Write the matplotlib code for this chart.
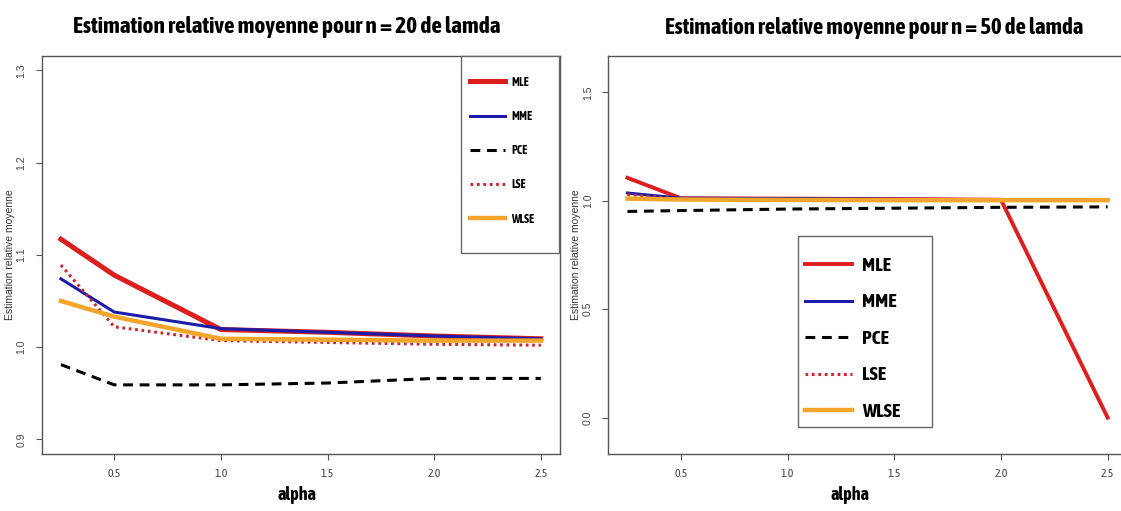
import matplotlib
matplotlib.use("Agg")
import matplotlib.pyplot as plt
from matplotlib import font_manager
from matplotlib.patches import Rectangle

alpha = [0.25, 0.5, 1.0, 1.5, 2.0, 2.5]
labels = ["MLE", "MME", "PCE", "LSE", "WLSE"]

# n = 20
mle_20 = [1.117, 1.078, 1.019, 1.016, 1.012, 1.009]
mme_20 = [1.074, 1.038, 1.020, 1.016, 1.012, 1.009]
pce_20 = [0.981, 0.959, 0.959, 0.961, 0.966, 0.966]
lse_20 = [1.089, 1.022, 1.007, 1.005, 1.003, 1.002]
wlse_20 = [1.050, 1.033, 1.009, 1.008, 1.007, 1.007]

# n = 50
mle_50 = [1.106, 1.012, 1.010, 1.008, 1.005, 0.0]
mme_50 = [1.036, 1.012, 1.010, 1.008, 1.005, 1.005]
pce_50 = [0.951, 0.955, 0.962, 0.966, 0.970, 0.972]
lse_50 = [1.029, 1.008, 1.006, 1.005, 1.004, 1.004]
wlse_50 = [1.010, 1.006, 1.004, 1.003, 1.003, 1.003]


def is_bold(w):
    if isinstance(w, str):
        return "bold" in w.lower() or w.lower() in ("heavy", "black")
    return w >= 600


# narrow family, preferably one that has a bold face
entries = font_manager.fontManager.ttflist
narrow_all = sorted({f.name for f in entries if "Narrow" in f.name or "Condensed" in f.name})
narrow_bold = sorted({f.name for f in entries
                      if f.name in narrow_all and is_bold(f.weight)})
names = {f.name for f in entries}
if narrow_bold:
    narrow = narrow_bold[0]
elif narrow_all:
    narrow = narrow_all[0]
else:
    narrow = "Liberation Sans" if "Liberation Sans" in names else "DejaVu Sans"
plain = "Liberation Sans" if "Liberation Sans" in names else "DejaVu Sans"

RED = "#dc1e1e"
BLUE = "#1c1ca8"
ORANGE = "#f2a52a"
LRED = "#c8282e"
AX = "#555555"


def style_axes(ax, xlim, ylim, yticks, xlab_x):
    ax.set_xlim(*xlim)
    ax.set_ylim(*ylim)
    ax.set_xticks([0.5, 1.0, 1.5, 2.0, 2.5])
    ax.set_xticklabels(["0.5", "1.0", "1.5", "2.0", "2.5"], family=narrow,
                       fontsize=8.5, color="#444444")
    ax.set_yticks(yticks)
    ax.set_yticklabels([f"{v:.1f}" for v in yticks], family=plain,
                       fontsize=7.5, color="#444444", rotation=90, va="center")
    ax.tick_params(direction="out", length=4, width=0.8, color=AX)
    ax.tick_params(axis="y", pad=7)
    ax.tick_params(axis="x", pad=6)
    for s in ax.spines.values():
        s.set_color(AX)
        s.set_linewidth(1.0)
    ax.set_xlabel("alpha", family=narrow, fontweight="bold", fontsize=13)
    ax.xaxis.set_label_coords(xlab_x, -0.08)
    ax.set_ylabel("Estimation relative moyenne", family=plain, fontsize=7.5,
                  color="#333333")
    ax.yaxis.set_label_coords(-0.052, 0.5)


def fit_title(fig, ax, text, x_center, width_px):
    t = ax.set_title(text, family=narrow, fontweight="bold", fontsize=18,
                     pad=16, x=x_center)
    fig.canvas.draw()
    w = t.get_window_extent().width
    t.set_fontsize(18 * width_px / w)
    return t


def legend_box(ax, box, anchor, fs, hl, spacing):
    ax.add_patch(Rectangle(box[:2], box[2], box[3], transform=ax.transAxes,
                           facecolor="white", edgecolor="#666666", lw=1.0,
                           zorder=5, clip_on=False))
    lg = ax.legend(loc="upper left", bbox_to_anchor=anchor, frameon=False,
                   borderpad=0, borderaxespad=0, handlelength=hl,
                   handletextpad=0.5, labelspacing=spacing,
                   prop={"family": narrow, "weight": "bold", "size": fs})
    lg.set_zorder(6)


fig = plt.figure(figsize=(11.21, 5.11), dpi=100)

# n = 20
ax1 = fig.add_axes([0.0372, 0.1115, 0.4624, 0.7795])
ax1.plot(alpha, mle_20, color=RED, lw=3.6, label=labels[0])
ax1.plot(alpha, mme_20, color=BLUE, lw=2.2, label=labels[1])
ax1.plot(alpha, pce_20, color="black", lw=2.2, dashes=(3.2, 2.2), label=labels[2])
ax1.plot(alpha, lse_20, color=LRED, lw=2.2, dashes=(0.9, 1.2), label=labels[3])
ax1.plot(alpha, wlse_20, color=ORANGE, lw=3.2, label=labels[4])
style_axes(ax1, (0.16, 2.59), (0.884, 1.316), [0.9, 1.0, 1.1, 1.2, 1.3], 0.4925)
legend_box(ax1, (0.808, 0.505, 0.19, 0.495), (0.826, 0.95), 8.5, 3.0, 1.8)

# n = 50
ax2 = fig.add_axes([0.5426, 0.1115, 0.4626, 0.7789])
ax2.plot(alpha, mle_50, color=RED, lw=2.8, label=labels[0])
ax2.plot(alpha, mme_50, color=BLUE, lw=2.2, label=labels[1])
ax2.plot(alpha, pce_50, color="black", lw=2.2, dashes=(3.2, 2.2), label=labels[2])
ax2.plot(alpha, lse_50, color=LRED, lw=2.2, dashes=(0.9, 1.2), label=labels[3])
ax2.plot(alpha, wlse_50, color=ORANGE, lw=3.2, label=labels[4])
style_axes(ax2, (0.16, 2.59), (-0.168, 1.668), [0.0, 0.5, 1.0, 1.5], 0.466)
ax2.spines["right"].set_visible(False)
legend_box(ax2, (0.365, 0.067, 0.259, 0.482), (0.38, 0.495), 14, 2.4, 0.95)

fit_title(fig, ax1, "Estimation relative moyenne pour n = 20 de lamda", 0.473, 428)
fit_title(fig, ax2, "Estimation relative moyenne pour n = 50 de lamda", 0.512, 420)

fig.savefig("out.png", dpi=100)
